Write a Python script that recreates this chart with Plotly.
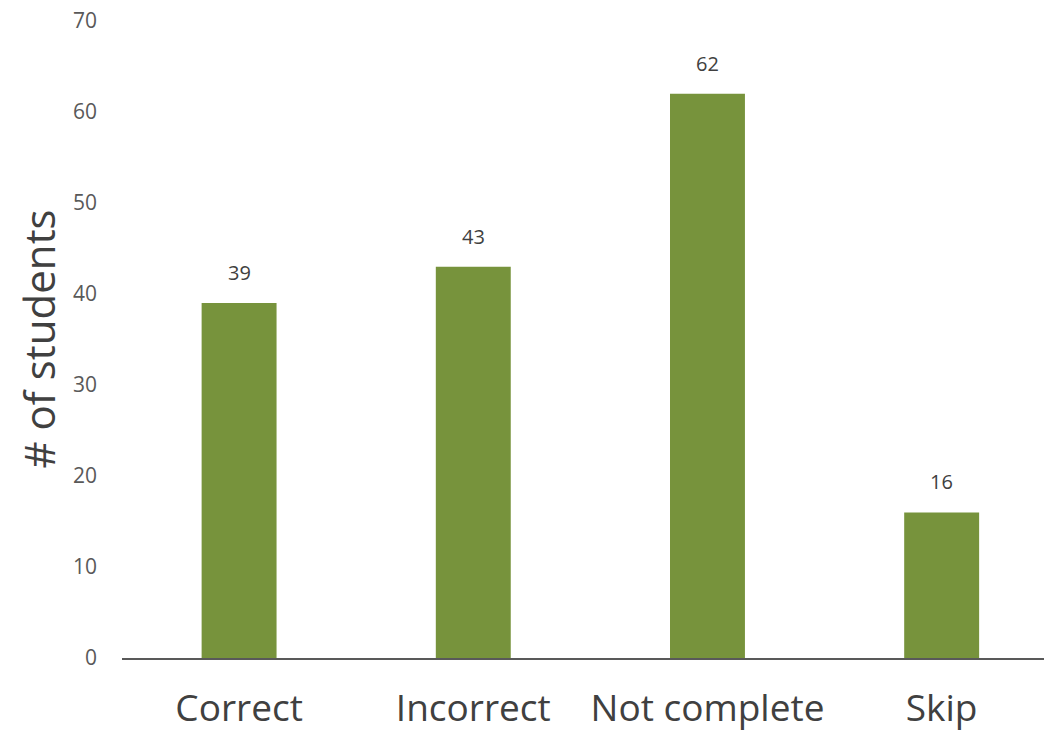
import plotly.graph_objects as go

categories = ["Correct", "Incorrect", "Not complete", "Skip"]
values = [39, 43, 62, 16]
y_ticks = [0, 10, 20, 30, 40, 50, 60, 70]
y_title = "# of students"

BAR = "#77933C"
FONT = "Open Sans"
L, R, T, B = 122, 0, 21, 73
W, H = 1044, 731
plot_w = W - L - R

fig = go.Figure()
fig.add_trace(go.Bar(
    x=categories, y=values, marker=dict(color=BAR, line=dict(width=0)),
    width=0.32, hoverinfo="skip",
))

for c, v in zip(categories, values):
    fig.add_annotation(x=c, y=v, text=str(v), showarrow=False,
                       yanchor="bottom", yshift=15,
                       font=dict(family=FONT, size=20, color="#404040"))

fig.add_annotation(xref="paper", yref="paper", x=-(L - 38) / plot_w, y=0.5,
                   text=y_title, textangle=-90, showarrow=False,
                   xanchor="center", yanchor="middle",
                   font=dict(family=FONT, size=42, color="#404040"))

fig.update_layout(
    width=W, height=H,
    margin=dict(l=L, r=R, t=T, b=B),
    paper_bgcolor="white", plot_bgcolor="white",
    showlegend=False,
    font=dict(family=FONT),
    xaxis=dict(
        range=[-0.5, 3.437], automargin=False,
        showline=True, linecolor="#595959", linewidth=2,
        showgrid=False, ticks="", zeroline=False,
        ticklabelstandoff=17,
        tickfont=dict(family=FONT, size=37, color="#404040"),
    ),
    yaxis=dict(
        range=[0, 70], tickvals=y_ticks, automargin=False,
        showgrid=False, zeroline=False, showline=False, ticks="",
        ticklabelstandoff=24,
        tickfont=dict(family=FONT, size=21, color="#595959"),
    ),
)

fig.write_html(
    "out.html",
    config={"displayModeBar": False},
    post_script="document.body.style.margin='0';document.body.style.overflow='hidden';",
)
